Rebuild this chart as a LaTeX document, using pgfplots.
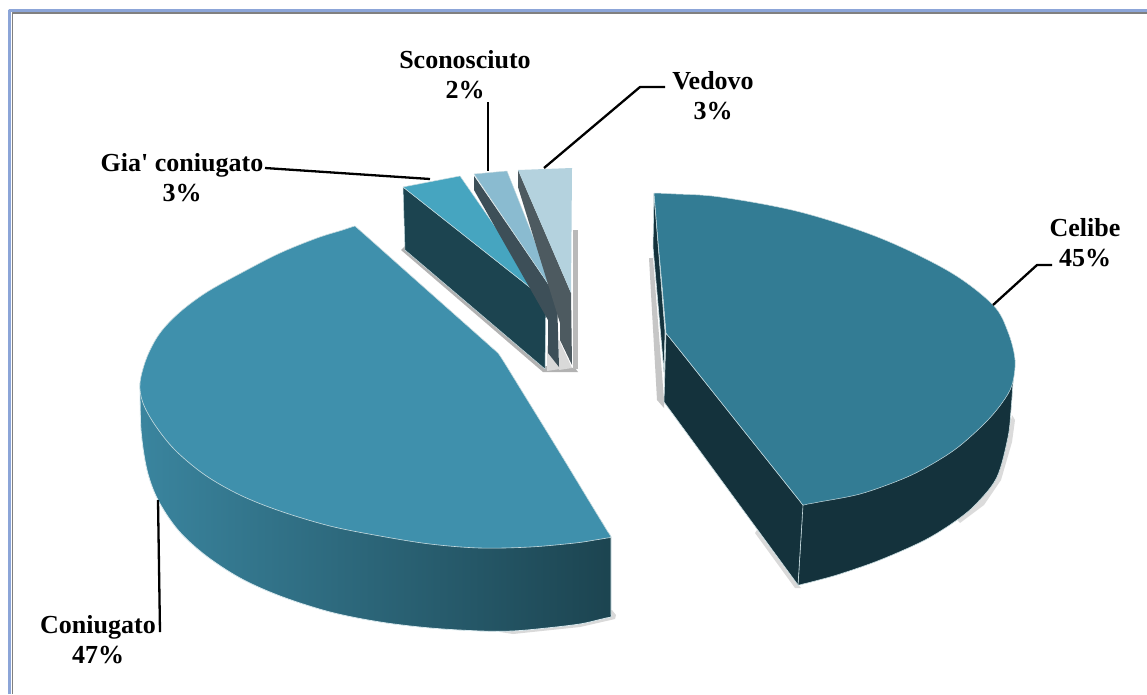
\documentclass[border=0pt]{standalone}
\usepackage{fontspec}
\setmainfont{Liberation Serif}
\usepackage{pgfplots}
\pgfplotsset{compat=1.18}
\definecolor{celtop}{HTML}{337C94}
\definecolor{celside}{HTML}{14323C}
\definecolor{contop}{HTML}{3F90AC}
\definecolor{giatop}{HTML}{46A5C0}
\definecolor{giaside}{HTML}{1C4450}
\definecolor{scotop}{HTML}{8ABBD0}
\definecolor{scoside}{HTML}{3D4F58}
\definecolor{vedtop}{HTML}{B4D2DE}
\definecolor{vedside}{HTML}{4D5A60}
\definecolor{frameblue}{HTML}{8CA5D8}
\definecolor{edge}{HTML}{C8DCE0}
\tikzset{lab/.style={font=\fontsize{26}{30}\selectfont\bfseries, align=center, text=black}}
\begin{document}
\begin{tikzpicture}
\begin{axis}[
    scale only axis, width=1147pt, height=694pt,
    xmin=0, xmax=1147, ymin=0, ymax=694,
    y dir=reverse, hide axis, clip=true,
    every axis plot/.append style={no markers, line join=round},
]
% white sheet, keeps the whole page in the bounding box
\addplot[fill=white, draw=none] coordinates {(0,0) (1147,0) (1147,694) (0,694) (0,0)};
% frame, only top and left are inside the picture
\addplot[draw=frameblue, line width=3pt] coordinates {(9.5,694) (9.5,10.5) (1147,10.5)};
\addplot[draw=gray, line width=1.2pt] coordinates {(12.5,694) (12.5,13) (1147,13)};

% shadows
\addplot[fill=gray!60, draw=none] coordinates {(401,250) (543,372) (578,372) (575,368) (545,366) (405,246)};
\addplot[fill=gray!55, draw=none] coordinates {(573,230) (578,230) (578,369) (573,369)};
\addplot[fill=gray!45, draw=none] coordinates {(649,258) (653,258) (664,400) (664,408) (657,400)};
\addplot[fill=gray!30, draw=none] coordinates {(547,345) (560,369) (547,371)};
\addplot[fill=gray!30, draw=none] coordinates {(559,340) (572,368) (559,370)};
\addplot[fill=gray!30, draw=none] coordinates {(605,612) (612,610) (616,615) (615,619) (580,627) (513,634) (500,632)};
\addplot[fill=gray!28, draw=none] coordinates {(1012,415) (1015,420) (1012,442) (1001,480) (984,505) (960,523) (957,520) (997,477) (1008,437)};
\addplot[fill=gray!30, draw=none] coordinates {(757,530) (796,583) (801,588) (795,588) (755,533)};

% Coniugato
\addplot[smooth, tension=0.55, left color=contop!92!black, middle color=contop!75!black, right color=giaside, draw=white!80!contop, line width=0.8pt] coordinates {
 (140,383) (141,430) (147,470) (158,500) (178,530) (205,555) (240,578) (280,596) (330,612)
 (380,622) (430,628) (480,631) (513,631) (547,628) (580,624) (600,619.5) (607,617.8) (611,617) (611,613) (611,600) (611,570)
 (611,545) (611,541) (611,537) (606,530) (590,510) (500,440) (140,383)};
\addplot[smooth, tension=0.55, fill=contop, draw=edge, line width=0.6pt] coordinates {
 (355,226) (358,228.7) (370,239.3) (400,266) (440,301.5) (480,337) (492,347.7) (495,350.3) (498,353) (504,362) (520,388) (560,453) (590,502.5)
 (604,525.5) (608,532) (611,537) (607,538) (595,540) (575,543) (530,547) (480,548) (430,544) (380,536) (330,526)
 (280,511) (240,495) (205,475) (175,450) (155,425) (143,403) (140,383) (147,357) (160,333) (180,312) (207,292)
 (243,272) (280,253) (317,238) (341,230.5) (351,227.2) (355,226)};

% Gia' coniugato
\addplot[fill=giaside, draw=edge, line width=0.5pt] coordinates {(403,187) (546,300) (545,369) (405,250) (403,187)};
\addplot[fill=giatop, draw=edge, line width=0.5pt] coordinates {(403,187) (460,176) (546,300) (403,187)};
% Sconosciuto
\addplot[fill=scoside, draw=none] coordinates {(474,176) (557,297) (559,367) (548,353) (548,320) (474,190) (474,176)};
\addplot[fill=scotop, draw=edge, line width=0.4pt] coordinates {(474,174) (507,171) (557,297) (474,174)};
% Vedovo
\addplot[fill=vedside, draw=none] coordinates {(518,170) (571,293) (572,365) (560,340) (560,323) (518,187) (518,170)};
\addplot[fill=vedtop, draw=none] coordinates {(518,170) (572,168) (571,293) (518,170)};

% Celibe
\addplot[fill=celside, draw=edge, line width=0.6pt] coordinates {(654,193) (665,332) (664,372) (653,247) (654,193)};
\addplot[smooth, tension=0.55, fill=celside, draw=edge, line width=0.6pt] coordinates {
 (1015,360) (1013,383) (1011,410) (1008,437) (997,477) (977,503) (957,520) (925,540) (880,560) (840,574) (815,581) (803,584)
 (798,585) (798.3,581) (799,569) (802,520) (803,505) (850,450) (900,400) (1015,360)};
\addplot[fill=celside, draw=edge, line width=0.6pt] coordinates {(666,333) (803,505) (798,585) (664,402) (666,333)};
\addplot[smooth, tension=0.55, fill=celtop, draw=edge, line width=0.5pt] coordinates {
 (654,193) (660,193.2) (672,193.8) (720,197) (800,212) (880,238) (950,272) (993,305) (1008,332) (1015,360) (1012,385) (1002,403) (985,423)
 (957,448) (927,467) (900,480) (860,494) (819,502) (807,504.2) (803,505) (800,501.2) (792,491.2) (770,463.6) (730,413.4) (690,363.1)
 (675,344.3) (669,336.8) (666,333) (665.7,329) (664.7,317) (662,285) (658,241) (655,205) (654.3,197) (654,193)};

% leaders
\addplot[draw=black, line width=2.3pt] coordinates {(1052,265) (1037,265) (993,305)};
\addplot[draw=black, line width=2.3pt] coordinates {(158,500) (160,632)};
\addplot[draw=black, line width=2.3pt] coordinates {(265,168) (430,179)};
\addplot[draw=black, line width=2.3pt] coordinates {(488,102) (488,171)};
\addplot[draw=black, line width=2.3pt] coordinates {(665,87) (640,87) (544,168)};

% labels
\node[lab] at (axis cs:1085,243) {Celibe\\45\%};
\node[lab] at (axis cs:98,640) {Coniugato\\47\%};
\node[lab] at (axis cs:182,178) {Gia\textquotesingle{} coniugato\\3\%};
\node[lab] at (axis cs:465,75) {Sconosciuto\\2\%};
\node[lab] at (axis cs:713,96) {Vedovo\\3\%};
\end{axis}
\end{tikzpicture}
\end{document}
